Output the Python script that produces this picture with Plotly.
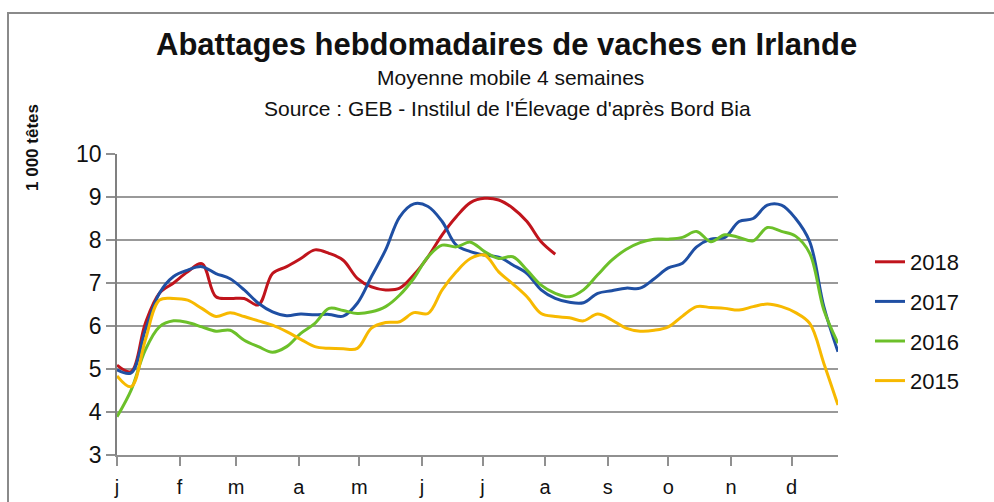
import plotly.graph_objects as go

weeks = list(range(1, 53))

y2018 = [5.09, 4.94, 6.06, 6.76, 7.00, 7.26, 7.45, 6.68, 6.64, 6.64, 6.49, 7.22, 7.38,
         7.57, 7.77, 7.69, 7.53, 7.11, 6.91, 6.84, 6.88, 7.19, 7.61, 8.12, 8.54, 8.87,
         8.97, 8.93, 8.74, 8.43, 7.96, 7.67]

y2017 = [4.98, 4.91, 5.90, 6.76, 7.15, 7.30, 7.38, 7.22, 7.10, 6.84, 6.53, 6.33, 6.24,
         6.28, 6.26, 6.27, 6.23, 6.53, 7.15, 7.77, 8.54, 8.84, 8.78, 8.43, 7.88, 7.73,
         7.65, 7.60, 7.42, 7.22, 6.84, 6.64, 6.55, 6.54, 6.76, 6.82, 6.88, 6.88, 7.10,
         7.35, 7.46, 7.84, 8.02, 8.06, 8.43, 8.50, 8.81, 8.81, 8.50, 7.96, 6.45, 5.40]

y2016 = [3.89, 4.51, 5.44, 5.98, 6.12, 6.08, 5.98, 5.88, 5.90, 5.67, 5.52, 5.39, 5.52,
         5.83, 6.06, 6.41, 6.36, 6.29, 6.33, 6.45, 6.72, 7.11, 7.61, 7.88, 7.84, 7.95,
         7.73, 7.57, 7.61, 7.30, 6.95, 6.76, 6.68, 6.84, 7.19, 7.53, 7.78, 7.94, 8.02,
         8.02, 8.06, 8.20, 7.96, 8.12, 8.06, 7.98, 8.29, 8.20, 8.09, 7.69, 6.37, 5.60]

y2015 = [4.84, 4.59, 5.67, 6.60, 6.64, 6.60, 6.41, 6.22, 6.31, 6.22, 6.12, 6.02, 5.87,
         5.69, 5.52, 5.48, 5.47, 5.48, 5.95, 6.08, 6.10, 6.31, 6.29, 6.84, 7.26, 7.57,
         7.65, 7.26, 6.98, 6.68, 6.29, 6.22, 6.19, 6.12, 6.28, 6.14, 5.95, 5.88, 5.90,
         5.98, 6.23, 6.45, 6.43, 6.41, 6.37, 6.45, 6.51, 6.45, 6.31, 6.06, 5.13, 4.16]

month_labels = ["j", "f", "m", "a", "m", "j", "j", "a", "s", "o", "n", "d"]
month_start_days = [0, 31, 59, 90, 120, 151, 181, 212, 243, 273, 304, 334]
y_ticks = [3, 4, 5, 6, 7, 8, 9, 10]

series = [
    ("2018", y2018, "#C0141C"),
    ("2017", y2017, "#1F4FA3"),
    ("2016", y2016, "#6CC02A"),
    ("2015", y2015, "#F7B900"),
]

FONT = "Liberation Sans, Arial, sans-serif"

fig = go.Figure()
for name, vals, col in series:
    fig.add_trace(go.Scatter(
        x=weeks[:len(vals)], y=vals, mode="lines", name=name,
        legendgroup=name,
        line=dict(color=col, width=3, shape="spline", smoothing=1.0),
    ))

L, R, T, B = 117, 156, 154, 47
W, H = 994, 502
pw, ph = W - L - R, H - T - B

def px(x):
    return (x - L) / pw

def py(y):
    return (H - B - y) / ph

fig.update_layout(
    width=W, height=H,
    margin=dict(l=L, r=R, t=T, b=B, pad=0, autoexpand=False),
    paper_bgcolor="white", plot_bgcolor="white",
    font=dict(family=FONT, color="#111111"),
    showlegend=True,
    legend=dict(
        x=px(870), y=py(241), xanchor="left", yanchor="top",
        font=dict(family=FONT, size=22, color="#111111"),
        tracegroupgap=8, bgcolor="rgba(0,0,0,0)", traceorder="grouped",
        itemwidth=30,
    ),
    xaxis=dict(
        range=[1, 52],
        tickmode="array",
        tickvals=[1 + d / 7 for d in month_start_days],
        ticktext=month_labels,
        ticks="outside", ticklen=9, tickcolor="#909090", tickwidth=1.5,
        showgrid=False, zeroline=False,
        showline=True, linecolor="#909090", linewidth=2,
        tickfont=dict(family=FONT, size=20, color="#111111"),
        ticklabelstandoff=4,
        automargin=False,
    ),
    yaxis=dict(
        range=[3, 10],
        tickmode="array", tickvals=y_ticks,
        ticks="outside", ticklen=9, tickcolor="#909090", tickwidth=1.5,
        showgrid=True, gridcolor="#999999", gridwidth=1.6,
        zeroline=False,
        showline=True, linecolor="#808080", linewidth=1.6,
        tickfont=dict(family=FONT, size=23, color="#111111"),
        automargin=False,
    ),
)

fig.add_shape(type="rect", xref="paper", yref="paper",
              x0=px(8), x1=px(1010), y0=py(520), y1=py(13),
              line=dict(color="#8a8a8a", width=2), fillcolor="rgba(0,0,0,0)",
              layer="below")

fig.add_annotation(text="<b>Abattages hebdomadaires de vaches en Irlande</b>",
                   xref="paper", yref="paper", x=px(506), y=py(44),
                   showarrow=False, xanchor="center", yanchor="middle",
                   font=dict(family=FONT, size=31, color="#111111"))
fig.add_annotation(text="Moyenne mobile 4 semaines",
                   xref="paper", yref="paper", x=px(510), y=py(77),
                   showarrow=False, xanchor="center", yanchor="middle",
                   font=dict(family=FONT, size=21, color="#111111"))
fig.add_annotation(text="Source : GEB - Instilul de l'Élevage d'après Bord Bia",
                   xref="paper", yref="paper", x=px(507), y=py(108),
                   showarrow=False, xanchor="center", yanchor="middle",
                   font=dict(family=FONT, size=21, color="#111111"))
fig.add_annotation(text="<b>1 000 têtes</b>",
                   xref="paper", yref="paper", x=px(32), y=py(148),
                   showarrow=False, xanchor="center", yanchor="middle",
                   textangle=-90,
                   font=dict(family=FONT, size=17, color="#111111"))

fig.write_html("out.html",
               config={"displayModeBar": False},
               post_script="document.body.style.margin='0';document.body.style.padding='0';")
